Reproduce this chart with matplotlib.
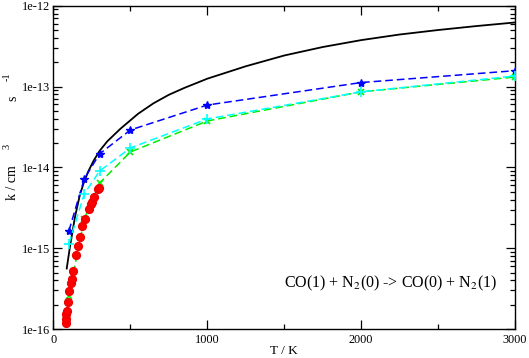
import numpy as np
import matplotlib.pyplot as plt
from matplotlib.ticker import LogLocator, MultipleLocator, FuncFormatter, NullFormatter

plt.rcParams['font.family'] = ['Liberation Serif', 'DejaVu Serif']
plt.rcParams['mathtext.fontset'] = 'stix'

# black solid curve
T_line = [86, 107, 140, 172, 200, 226, 260, 300, 350, 435, 550, 650, 750, 850, 1000, 1250, 1500, 1750,
          2000, 2250, 2500, 2750, 3000]
k_line = [5.6e-16, 1.04e-15, 2.45e-15, 4.6e-15, 6.7e-15, 8.9e-15, 1.2e-14, 1.6e-14, 2.1e-14, 3.0e-14,
          4.6e-14, 6.2e-14, 7.9e-14, 9.6e-14, 1.25e-13, 1.78e-13, 2.42e-13, 3.08e-13,
          3.75e-13, 4.4e-13, 5.0e-13, 5.6e-13, 6.2e-13]

T_pts = [100, 200, 300, 500, 1000, 2000, 3000]
k_blue = [1.63e-15, 7.2e-15, 1.47e-14, 2.9e-14, 5.9e-14, 1.12e-13, 1.57e-13]
k_cyan = [1.13e-15, 4.7e-15, 9.0e-15, 1.74e-14, 3.97e-14, 8.6e-14, 1.35e-13]
k_green = [2.56e-16, 2.3e-15, 6.4e-15, 1.55e-14, 3.75e-14, 8.6e-14, 1.31e-13]

T_red = [79, 79, 81, 86, 96, 103, 114, 118, 129, 146, 161, 172, 187, 205, 231, 242, 250, 263, 291, 298]
k_red = [1.18e-16, 1.33e-16, 1.53e-16, 1.67e-16, 2.18e-16, 2.93e-16, 3.74e-16, 4.19e-16, 5.18e-16, 8.17e-16,
         1.06e-15, 1.36e-15, 1.88e-15, 2.32e-15, 3.03e-15, 3.49e-15, 3.76e-15, 4.34e-15, 5.36e-15, 5.61e-15]

fig = plt.figure(figsize=(5.29, 3.58), dpi=100)
ax = fig.add_axes([0.1011, 0.0810, 0.8724, 0.9031])

ax.plot(T_line, k_line, color='black', lw=1.3, zorder=3)
ax.plot(T_pts, k_blue, color='#0000ff', ls='--', lw=1.1, marker='*', ms=6, dashes=(5, 2.6), zorder=4)
ax.plot(T_pts, k_green, color='#00ee00', ls='--', lw=1.1, marker='x', ms=5, mew=1.2, dashes=(5, 2.6), zorder=4)
ax.plot(T_pts, k_cyan, color='#00ffff', ls='--', lw=1.1, marker='+', ms=7, mew=1.2, dashes=(5, 2.6), zorder=4)
ax.plot(T_red, k_red, ls='none', marker='o', ms=5.6, color='#ff0000', mec='#ee0000', zorder=5)

ax.set_yscale('log')
ax.set_xlim(0, 3000)
ax.set_ylim(1e-16, 1e-12)

ax.xaxis.set_major_locator(MultipleLocator(1000))
ax.xaxis.set_minor_locator(MultipleLocator(500))
ax.yaxis.set_major_locator(LogLocator(base=10))
ax.yaxis.set_minor_locator(LogLocator(base=10, subs=np.arange(2, 10)))
ax.yaxis.set_minor_formatter(NullFormatter())
ax.yaxis.set_major_formatter(FuncFormatter(lambda v, p: '1e%d' % int(round(np.log10(v)))))

ax.tick_params(which='both', direction='in', top=True, right=True, labelsize=8.8)
ax.tick_params(which='major', length=6.5, width=0.9, pad=3.5)
ax.tick_params(which='minor', length=3.6, width=0.9)
ax.tick_params(axis='y', which='major', pad=2.5)
for s in ax.spines.values():
    s.set_linewidth(1.0)

fig.text(284 / 529, 1 - 351 / 358, 'T / K', fontsize=9.5, ha='center', va='center')

# y label, spaced out like the original (pieces placed in pixels)
def px(x, y):
    return x / 529, 1 - y / 358

fig.text(*px(13, 200), 'k / cm', fontsize=10, rotation=90, ha='center', va='bottom')
fig.text(*px(7, 146), '3', fontsize=7.5, rotation=90, ha='center', va='center')
fig.text(*px(13, 98), 's', fontsize=10, rotation=90, ha='center', va='center')
fig.text(*px(7, 77), '-1', fontsize=7.5, rotation=90, ha='center', va='center')

ax.text(2190, 10 ** -15.44, r'CO(1) + N$_2$(0) -> CO(0) + N$_2$(1)', fontsize=11.5,
        ha='center', va='center')

fig.savefig('out.png', dpi=100)
